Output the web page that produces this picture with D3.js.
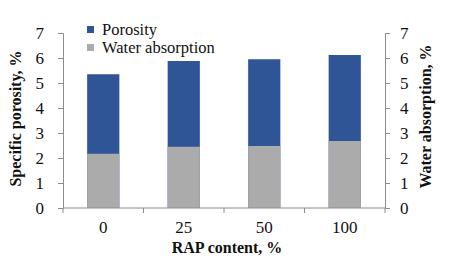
<!DOCTYPE html>
<html>
<head>
<meta charset="utf-8">
<script src="https://cdn.jsdelivr.net/npm/d3@7"></script>
<style>
  body { margin: 0; background: #fff; }
  svg text { font-family: "Liberation Serif", "Times New Roman", serif; fill: #111; }
</style>
</head>
<body>
<svg id="chart" width="450" height="269"></svg>
<script>
const categories = ["0", "25", "50", "100"];
const porosity = [5.35, 5.88, 5.95, 6.12];
const waterAbsorption = [2.17, 2.45, 2.48, 2.68];
const yTicks = [0, 1, 2, 3, 4, 5, 6, 7];

const serif = "Liberation Serif";
const svg = d3.select("#chart");
const margin = { left: 63, right: 65, top: 33, bottom: 61 };
const width = 450 - margin.left - margin.right;
const height = 269 - margin.top - margin.bottom;

const g = svg.append("g").attr("transform", `translate(${margin.left},${margin.top})`);

const x = d3.scaleBand().domain(categories).range([0, width]).paddingInner(0.6).paddingOuter(0.3);
const y = d3.scaleLinear().domain([0, 7]).range([height, 0]);

/* bars: porosity behind, water absorption in front */
g.selectAll("rect.por")
  .data(categories)
  .enter()
  .append("rect")
  .attr("class", "por")
  .attr("x", d => x(d))
  .attr("width", x.bandwidth())
  .attr("y", (d, i) => y(porosity[i]))
  .attr("height", (d, i) => y(0) - y(porosity[i]))
  .attr("fill", "#2f5597");

g.selectAll("rect.wa")
  .data(categories)
  .enter()
  .append("rect")
  .attr("class", "wa")
  .attr("x", d => x(d))
  .attr("width", x.bandwidth())
  .attr("y", (d, i) => y(waterAbsorption[i]))
  .attr("height", (d, i) => y(0) - y(waterAbsorption[i]))
  .attr("fill", "#ababab");

/* axes */
const axisColor = "#8c8c8c";
const fmt = d3.format("d");

const yLeft = g.append("g")
  .call(d3.axisLeft(y).tickValues(yTicks).tickFormat(fmt).tickSize(5).tickPadding(14));
const yRight = g.append("g")
  .attr("transform", `translate(${width},0)`)
  .call(d3.axisRight(y).tickValues(yTicks).tickFormat(fmt).tickSize(5).tickPadding(10));

[yLeft, yRight].forEach(a => {
  a.attr("font-family", serif);
  a.select(".domain").attr("stroke", axisColor);
  a.selectAll(".tick line").attr("stroke", axisColor);
  a.selectAll(".tick text").attr("font-size", 17).attr("fill", "#111");
});

/* x axis: ticks between categories */
const xAxis = g.append("g").attr("transform", `translate(0,${height})`);
xAxis.append("line")
  .attr("x1", 0).attr("x2", width)
  .attr("stroke", axisColor);
const step = width / categories.length;
xAxis.selectAll("line.tk")
  .data(d3.range(categories.length + 1))
  .enter()
  .append("line")
  .attr("class", "tk")
  .attr("x1", d => d * step).attr("x2", d => d * step)
  .attr("y1", 0).attr("y2", 5)
  .attr("stroke", axisColor);
xAxis.selectAll("text")
  .data(categories)
  .enter()
  .append("text")
  .attr("x", d => x(d) + x.bandwidth() / 2)
  .attr("y", 25)
  .attr("text-anchor", "middle")
  .attr("font-family", serif)
  .attr("font-size", 17)
  .text(d => d);

/* titles */
svg.append("text")
  .attr("x", margin.left + width / 2 + 3)
  .attr("y", 253)
  .attr("text-anchor", "middle")
  .attr("font-family", serif)
  .attr("font-size", 16)
  .attr("font-weight", "bold")
  .text("RAP content, %");

svg.append("text")
  .attr("transform", `translate(21,${margin.top + height / 2 - 2}) rotate(-90)`)
  .attr("text-anchor", "middle")
  .attr("font-family", serif)
  .attr("font-size", 16)
  .attr("font-weight", "bold")
  .text("Specific porosity, %");

svg.append("text")
  .attr("transform", `translate(431,${margin.top + height / 2 - 4}) rotate(-90)`)
  .attr("text-anchor", "middle")
  .attr("font-family", serif)
  .attr("font-size", 16)
  .attr("font-weight", "bold")
  .text("Water absorption, %");

/* legend */
const legend = [
  { name: "Porosity", color: "#2f5597" },
  { name: "Water absorption", color: "#ababab" }
];
const lg = svg.selectAll("g.leg")
  .data(legend)
  .enter()
  .append("g")
  .attr("class", "leg")
  .attr("transform", (d, i) => `translate(87,${26 + i * 18})`);
lg.append("rect")
  .attr("width", 7).attr("height", 7)
  .attr("fill", d => d.color);
lg.append("text")
  .attr("x", 15)
  .attr("y", 9)
  .attr("font-family", serif)
  .attr("font-size", 16.5)
  .text(d => d.name);
</script>
</body>
</html>
